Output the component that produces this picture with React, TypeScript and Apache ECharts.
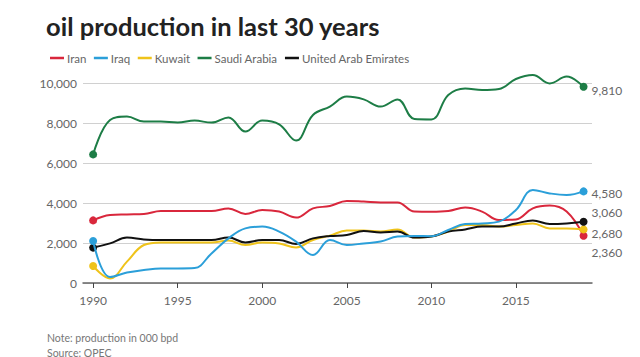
import React, { useEffect, useRef } from "react";
import * as echarts from "echarts";

const years = [1990,1991,1992,1993,1994,1995,1996,1997,1998,1999,2000,2001,2002,2003,2004,2005,2006,2007,2008,2009,2010,2011,2012,2013,2014,2015,2016,2017,2018,2019];

const iran = [3130,3400,3430,3450,3600,3600,3600,3600,3730,3450,3650,3570,3270,3730,3850,4100,4070,4030,4030,3570,3560,3600,3770,3570,3150,3180,3730,3870,3570,2360];
const iraq = [2100,300,520,650,730,730,750,1480,2230,2730,2820,2570,2070,1400,2150,1900,1980,2070,2320,2350,2340,2650,2950,2980,3070,3650,4650,4480,4400,4580];
const kuwait = [850,230,1070,1900,2030,2030,2030,2030,2120,1900,2030,1980,1780,2150,2370,2620,2620,2570,2680,2270,2320,2570,2900,2900,2820,2900,2980,2730,2730,2680];
const saudi = [6430,8150,8320,8070,8070,8030,8120,8020,8280,7570,8120,7930,7120,8400,8820,9320,9180,8820,9180,8200,8180,9400,9730,9650,9700,10200,10400,9980,10320,9810];
const uae = [1770,1980,2270,2180,2150,2150,2150,2150,2270,2030,2150,2150,1950,2230,2350,2400,2600,2530,2570,2270,2320,2570,2680,2820,2820,2980,3120,2950,2980,3060];

const seriesNames = ["Iran", "Iraq", "Kuwait", "Saudi Arabia", "United Arab Emirates"];
const seriesColors = ["#d9273c", "#2b9fd9", "#efc31a", "#1d7d46", "#111111"];
const labelOffsets = [17, 2, 4, 4, -9];
const xTicks = [1990, 1995, 2000, 2005, 2010, 2015];
const yTicks = [0, 2000, 4000, 6000, 8000, 10000];

const FONT = "Lato";

export default function App() {
  const ref = useRef<HTMLDivElement>(null);
  useEffect(() => {
    document.body.style.margin = "0";
    const chart = echarts.init(ref.current!, undefined, { renderer: "svg" });
    const all = [iran, iraq, kuwait, saudi, uae];
    const last = years.length - 1;
    const series = all.map((vals, i) => ({
      name: seriesNames[i],
      type: "line",
      smooth: 0.4,
      clip: false,
      data: vals.map((v, j) => [years[j], v]),
      symbol: "circle",
      symbolSize: (_v: any, p: any) => (p.dataIndex === 0 || p.dataIndex === last ? 8 : 0),
      showAllSymbol: true,
      lineStyle: { width: 2, color: seriesColors[i] },
      itemStyle: { color: seriesColors[i] },
      z: i === 1 ? 3 : 2,
      endLabel: {
        show: true,
        distance: 8,
        offset: [0, labelOffsets[i]],
        color: "#666",
        fontFamily: FONT,
        fontSize: 12,
        formatter: (p: any) => Number(p.value[1]).toLocaleString("en-US"),
      },
      emphasis: { disabled: true },
    }));
    chart.setOption({
      animation: false,
      textStyle: { fontFamily: FONT },
      graphic: [
        {
          type: "text",
          left: 46,
          top: 13,
          style: { text: "oil production in last 30 years", font: `bold 25.5px ${FONT}`, fill: "#222" },
        },
        {
          type: "text",
          left: 47,
          top: 332,
          style: { text: "Note: production in 000 bpd", font: `10.5px ${FONT}`, fill: "#777" },
        },
        {
          type: "text",
          left: 47,
          top: 347,
          style: { text: "Source: OPEC", font: `10.5px ${FONT}`, fill: "#777" },
        },
      ],
      legend: {
        left: 45,
        top: 47,
        icon: "rect",
        itemWidth: 14,
        itemHeight: 2.5,
        itemGap: 7.5,
        textStyle: { color: "#666", fontSize: 11.5, fontFamily: FONT, padding: [0, 0, 0, -2] },
        data: seriesNames,
      },
      grid: { left: 83, right: 48, top: 83, bottom: 74 },
      xAxis: {
        type: "value",
        min: 1989.4,
        max: 2019.5,
        splitLine: { show: false },
        axisLine: { lineStyle: { color: "#666", width: 1.5 } },
        axisTick: { show: true, length: 5, lineStyle: { color: "#444" }, customValues: xTicks },
        axisLabel: {
          color: "#666",
          fontSize: 12,
          margin: 11,
          fontFamily: FONT,
          customValues: xTicks,
          formatter: (v: number) => String(v),
        },
      },
      yAxis: {
        type: "value",
        min: 0,
        max: 10000,
        interval: 2000,
        axisLine: { show: false },
        axisTick: { show: false },
        splitLine: { lineStyle: { color: "#d0d0d0", width: 1.2 } },
        axisLabel: {
          color: "#666",
          fontSize: 12,
          margin: 6,
          fontFamily: FONT,
          customValues: yTicks,
          formatter: (v: number) => v.toLocaleString("en-US"),
        },
      },
      series,
    });
    return () => chart.dispose();
  }, []);
  return <div ref={ref} style={{ width: 640, height: 357 }} />;
}
